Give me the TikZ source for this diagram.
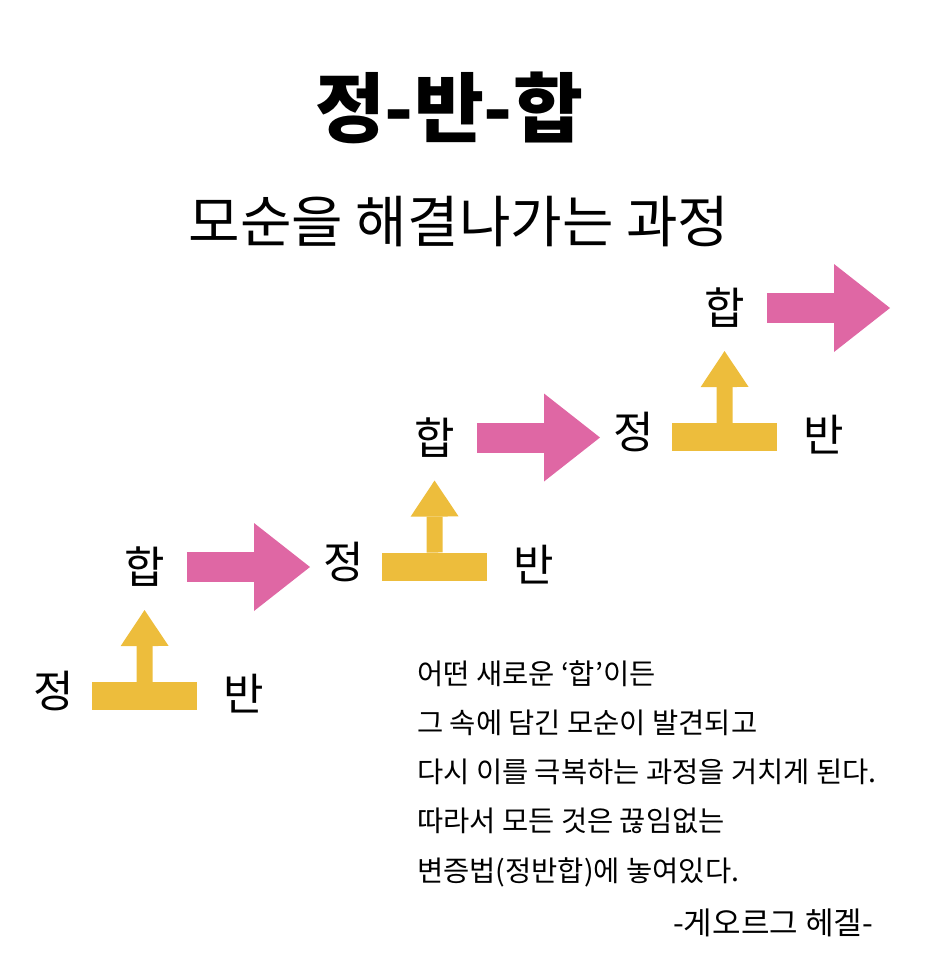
\documentclass[tikz,border=0pt]{standalone}
\usepackage{fontspec}
\setmainfont{Noto Sans CJK KR}
\usepackage{xcolor}
\usepackage{tikz}
\usetikzlibrary{
    arrows.meta,
    positioning
}
\definecolor{hotpink}{HTML}{DF67A4}
\definecolor{mustard}{HTML}{EDBD3C}
\tikzset{
    word/.style={
        font=\fontsize{44}{44}\selectfont,
        inner sep=0pt
    }
}
\tikzset{
    basebar/.style={
        fill=mustard,
        minimum width=105pt,
        minimum height=28pt,
        inner sep=0pt,
        anchor=north west
    }
}
\tikzset{
    riseup/.style={
        draw=mustard,
        line width=16pt,
        -{Triangle[length=36pt,width=48pt,line width=0pt]}
    }
}
\tikzset{
    moveon/.style={
        draw=hotpink,
        line width=30pt,
        -{Triangle[length=56pt,width=88pt,line width=0pt]}
    }
}
\tikzset{
    quoteline/.style={
        font=\fontsize{28.5}{28.5}\selectfont,
        anchor=base west,
        inner sep=0pt
    }
}

\begin{document}
\begin{tikzpicture}[
    x=1pt, y=-1pt
]
\useasboundingbox (0,0) rectangle (938,972);

% =========================================================
% Title
% =========================================================

\node[font=\fontsize{76}{76}\selectfont\bfseries] (title) at (449,108) {정-반-합};

\node[font=\fontsize{56}{56}\selectfont] (subtitle) at (459,222) {모순을 해결나가는 과정};


% =========================================================
% Steps
% =========================================================

\foreach \i in {0,1,2} {
    \begin{scope}[shift={({92+290*\i},{682-129.5*\i})}]
        \node[basebar] (bar\i) at (0,0) {};
        \node[word] (jeong\i) at (-38,9) {정};
        \node[word] (ban\i) at (152,12) {반};
        \node[word] (hap\i) at (52.5,-115) {합};
        \coordinate (tip\i) at (218,-115);
        \draw[riseup, shorten >=23pt] (bar\i.north) -- (hap\i.south);
        \draw[moveon, shorten <=22pt] (hap\i.east) -- (tip\i);
    \end{scope}
}


% =========================================================
% Quote
% =========================================================

\foreach \txt [count=\n] in {
    어떤 새로운 ‘합’이든,
    그 속에 담긴 모순이 발견되고,
    다시 이를 극복하는 과정을 거치게 된다.,
    따라서 모든 것은 끊임없는,
    변증법(정반합)에 놓여있다.
} {
    \node[quoteline] (line\n) at (417,{684+49.3*(\n-1)}) {\txt};
}

\node[quoteline, font=\fontsize{31}{31}\selectfont, anchor=base east] (author) at (873,934) {-게오르그 헤겔-};

\end{tikzpicture}
\end{document}
